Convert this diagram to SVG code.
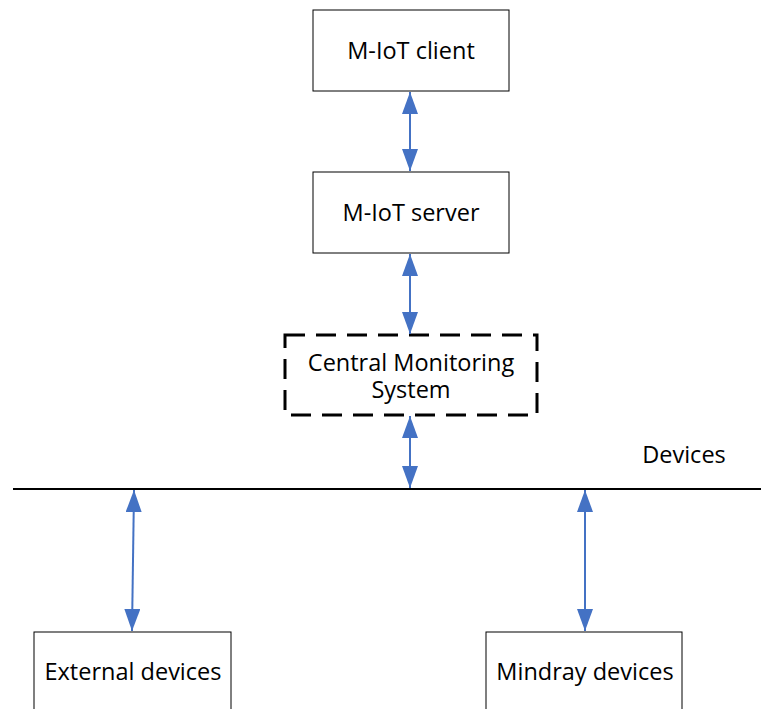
<svg xmlns="http://www.w3.org/2000/svg" width="761" height="709" viewBox="0 0 761 709">
<style>
.box{fill:#fff;stroke:#000;stroke-width:1}
.dash{fill:#fff;stroke:#000;stroke-width:3;stroke-dasharray:20 11}
.t{font-family:"Open Sans","Noto Sans",sans-serif;font-size:23.5px;fill:#000;text-anchor:middle}
.c{stroke:#4472C4;stroke-width:2;fill:none;marker-start:url(#ah);marker-end:url(#ah)}
</style>
<defs>
<marker id="ah" viewBox="0 0 22 16" refX="22" refY="8" markerWidth="22" markerHeight="16" markerUnits="userSpaceOnUse" orient="auto-start-reverse">
<path d="M0,0 L22,8 L0,16 Z" fill="#4472C4"/>
</marker>
</defs>
<rect width="761" height="709" fill="#fff"/>
<g id="client"><rect class="box" x="313" y="10" width="196" height="81"/><text class="t" x="411" y="59">M-IoT client</text></g>
<g id="server"><rect class="box" x="313" y="172" width="196" height="81"/><text class="t" x="411" y="221">M-IoT server</text></g>
<g id="cms"><rect class="dash" x="285" y="335" width="252" height="80"/><text class="t" x="411" y="371">Central Monitoring</text><text class="t" x="411" y="398">System</text></g>
<g id="bus"><line x1="13" y1="489" x2="761" y2="489" stroke="#000" stroke-width="2"/><text class="t" x="684" y="463">Devices</text></g>
<g id="external"><rect class="box" x="34" y="632" width="197" height="90"/><text class="t" x="133" y="680">External devices</text></g>
<g id="mindray"><rect class="box" x="486" y="632" width="196" height="90"/><text class="t" x="585" y="680">Mindray devices</text></g>
<g id="connectors">
<line class="c" x1="410" y1="92" x2="410" y2="171"/>
<line class="c" x1="410" y1="254" x2="410" y2="334"/>
<line class="c" x1="410" y1="416" x2="410" y2="488"/>
<line class="c" x1="134" y1="490" x2="132" y2="631"/>
<line class="c" x1="585" y1="490" x2="585" y2="631"/>
</g>
</svg>
